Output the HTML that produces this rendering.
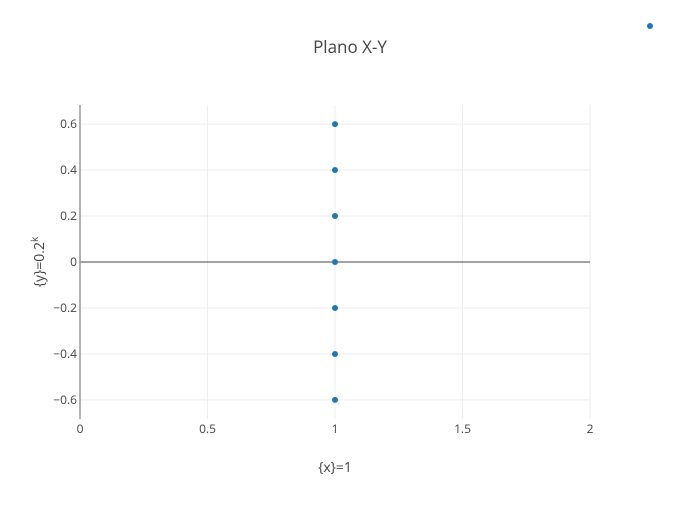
<!DOCTYPE html>
<html><head><meta charset="utf-8"><style>
body{margin:0;background:#fff}
text{font-family:"Open Sans","Liberation Sans",sans-serif;fill:#444}
</style></head><body>
<svg id="c" width="700" height="500"></svg>
<script>
const xVals=[1,1,1,1,1,1,1];
const yVals=[0.6,0.4,0.2,0,-0.2,-0.4,-0.6];
const xTicks=[0,0.5,1,1.5,2];
const xTickLabels=["0","0.5","1","1.5","2"];
const yTicks=[-0.6,-0.4,-0.2,0,0.2,0.4,0.6];
const yTickLabels=["−0.6","−0.4","−0.2","0","0.2","0.4","0.6"];
const L=80,R=590,T=105,B=419,xmin=0,xmax=2,ymin=-0.683,ymax=0.683;
const sx=v=>L+(v-xmin)/(xmax-xmin)*(R-L);
const sy=v=>B-(v-ymin)/(ymax-ymin)*(B-T);
const svg=document.getElementById('c');
const NS='http://www.w3.org/2000/svg';
function mk(tag,attrs,parent){const e=document.createElementNS(NS,tag);for(const k in attrs)e.setAttribute(k,attrs[k]);(parent||svg).appendChild(e);return e;}
xTicks.forEach((t,i)=>{
 if(t!==0){const g=mk('line',{x1:sx(t),x2:sx(t),y1:T,y2:B,stroke:'#eee','stroke-width':1});
 
 }
 const tx=mk('text',{x:sx(t),y:B+14,'text-anchor':'middle','font-size':12});
 tx.textContent=xTickLabels[i];
 
 
});
yTicks.forEach((t,i)=>{
 if(t!==0){const g=mk('line',{x1:L,x2:R,y1:sy(t),y2:sy(t),stroke:'#eee','stroke-width':1});
 
 }
 const tx=mk('text',{x:L-3,y:sy(t)+4,'text-anchor':'end','font-size':12});
 tx.textContent=yTickLabels[i];
 
 
});
const z=mk('line',{x1:L,x2:R,y1:sy(0),y2:sy(0),stroke:'#444','stroke-width':1});


const ax=mk('line',{x1:L,x2:L,y1:T,y2:B,stroke:'#999','stroke-width':1.5});


xVals.forEach((x,i)=>{
 const p=mk('circle',{cx:sx(x),cy:sy(yVals[i]),r:3,fill:'#1f77b4'});
 
 
});
</script>
<svg width="700" height="500" style="position:absolute;left:0;top:0">
<text x="350" y="53" text-anchor="middle" font-size="17">Plano X-Y</text>
<text x="335" y="472" text-anchor="middle" font-size="14">{x}=1</text>
<text transform="translate(44,262) rotate(-90)" text-anchor="middle" font-size="14">{y}=0.2<tspan dy="-6" font-size="10">k</tspan></text>
<circle cx="650" cy="26" r="3" fill="#1f77b4"/>
</svg>
</body></html>
